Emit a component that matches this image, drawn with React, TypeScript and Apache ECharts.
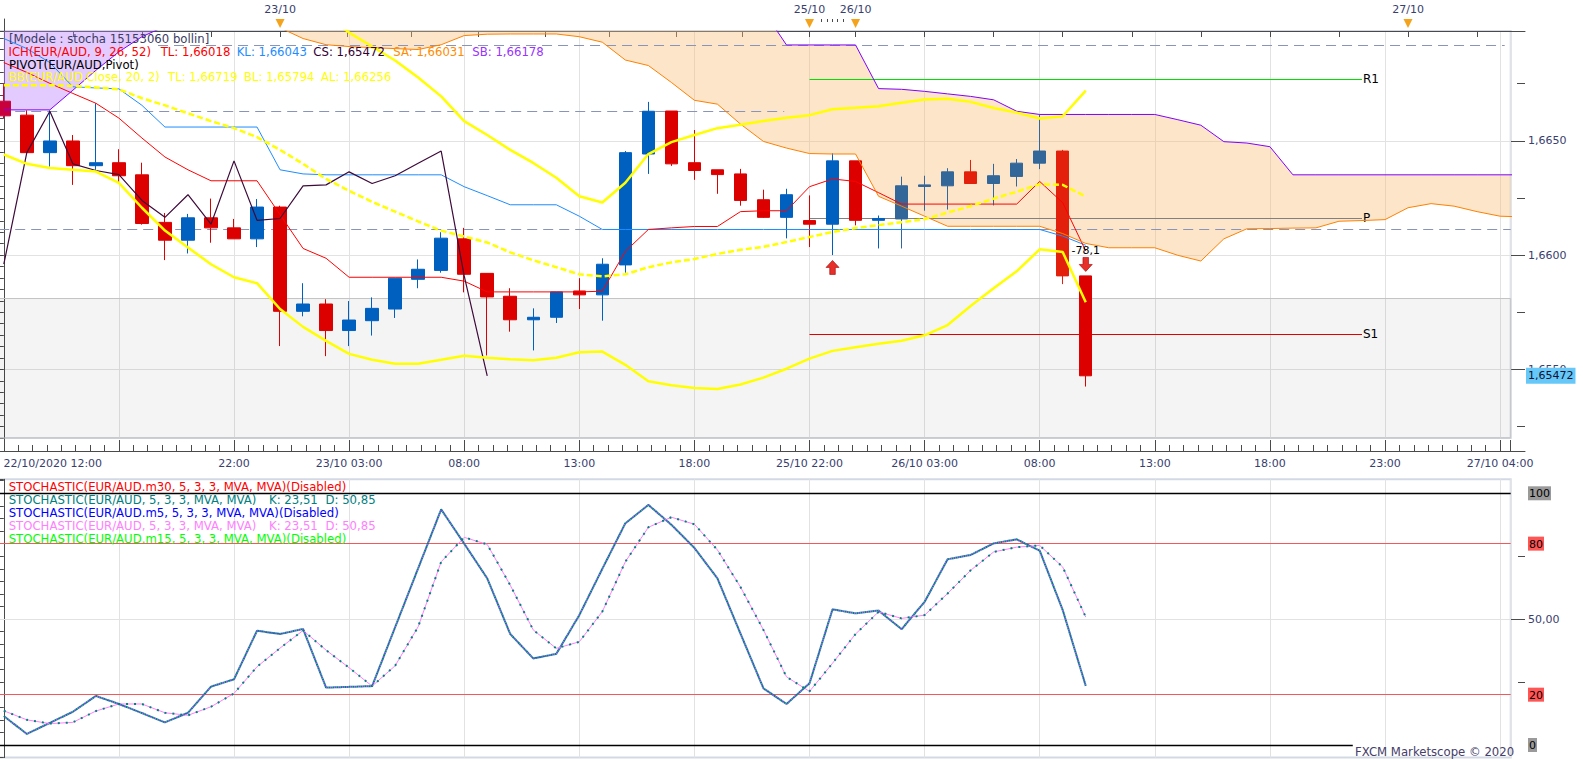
import React, { useEffect, useRef } from 'react';
import * as echarts from 'echarts';

const FONT = 'DejaVu Sans';
const AXIS_TEXT = '#383e6e';
const X_MIN = -5;
const X_MAX = 65.46;
const Y_MIN = 1.652;
const Y_MAX = 1.6698;
const S_MIN = -5;
const S_MAX = 105.56;

// ---- time axis (one slot = one hour) ----
const tickSlots = [0, 5, 10, 15, 20, 25, 30, 35, 40, 45, 50, 55, 60, 65];
const tickLabels = ['22/10/2020 12:00', '', '22:00', '23/10 03:00', '08:00', '13:00', '18:00', '25/10 22:00', '26/10 03:00', '08:00', '13:00', '18:00', '23:00', '27/10 04:00'];
const daySlots = [12, 35, 37, 61];
const dayLabels = ['23/10', '25/10', '26/10', '27/10'];
const topTickSlots = [0, 3, 6, 9, 12, 14.9, 17.7, 20.6, 23.5, 26.3, 29.2, 32.1, 35, 37, 40, 43, 46, 49, 52, 55, 58, 61, 64];
const topSmallTickSlots = [35.5, 35.75, 36, 36.2, 36.45];

// ---- EUR/AUD hourly candles ----
const opens = [1.66673, 1.66612, 1.66448, 1.66499, 1.66391, 1.66404, 1.66351, 1.66143, 1.66065, 1.66163, 1.66119, 1.66071, 1.6621, 1.65754, 1.65786, 1.6567, 1.65713, 1.65764, 1.65894, 1.65933, 1.66071, 1.6592, 1.6582, 1.65717, 1.65728, 1.65843, 1.65826, 1.65957, 1.66442, 1.6663, 1.66404, 1.66373, 1.66355, 1.66242, 1.66165, 1.66151, 1.66135, 1.66412, 1.66152, 1.66158, 1.663, 1.66303, 1.66364, 1.66313, 1.66344, 1.66402, 1.66455, 1.65909];
const closes = [1.66609, 1.66448, 1.66499, 1.66391, 1.66404, 1.66347, 1.66138, 1.66065, 1.66163, 1.66119, 1.66071, 1.6621, 1.65754, 1.65786, 1.6567, 1.65716, 1.65767, 1.65899, 1.65938, 1.66074, 1.65916, 1.65817, 1.65717, 1.65728, 1.65839, 1.65826, 1.6596, 1.66448, 1.66629, 1.66399, 1.6637, 1.66352, 1.66239, 1.66165, 1.66264, 1.66135, 1.66412, 1.66152, 1.6616, 1.66303, 1.66307, 1.66364, 1.66313, 1.66347, 1.66402, 1.66455, 1.65909, 1.65472];
const lows = [1.66599, 1.66447, 1.66387, 1.66307, 1.66373, 1.66317, 1.66133, 1.65978, 1.66007, 1.66054, 1.66071, 1.66035, 1.65602, 1.65732, 1.65558, 1.65602, 1.65648, 1.65725, 1.65855, 1.65923, 1.65837, 1.65561, 1.65665, 1.65583, 1.65703, 1.65764, 1.65713, 1.65923, 1.66355, 1.6639, 1.66329, 1.66268, 1.66216, 1.66163, 1.66073, 1.66035, 1.66, 1.6613, 1.66029, 1.66029, 1.66194, 1.66199, 1.66313, 1.66217, 1.663, 1.66376, 1.65873, 1.65425];
const highs = [1.66751, 1.66633, 1.66633, 1.66525, 1.66664, 1.66463, 1.66404, 1.66184, 1.6618, 1.66247, 1.66158, 1.66245, 1.66216, 1.65877, 1.65807, 1.65799, 1.65815, 1.65899, 1.65981, 1.661, 1.66119, 1.6592, 1.65855, 1.65767, 1.65839, 1.65899, 1.65986, 1.66455, 1.6667, 1.6663, 1.66547, 1.66373, 1.66377, 1.66286, 1.6629, 1.66261, 1.66445, 1.66412, 1.66173, 1.66343, 1.66347, 1.6638, 1.66416, 1.66399, 1.6642, 1.66615, 1.6646, 1.65909];

// ---- Ichimoku ----
const tenkan = [1.66842, 1.66799, 1.66751, 1.66707, 1.66664, 1.66599, 1.66512, 1.66429, 1.66373, 1.66325, 1.66325, 1.66325, 1.66177, 1.66029, 1.65986, 1.65903, 1.65903, 1.65903, 1.65903, 1.65903, 1.65886, 1.65839, 1.65839, 1.65839, 1.65839, 1.65839, 1.65842, 1.66016, 1.66112, 1.66119, 1.66125, 1.66125, 1.6619, 1.66194, 1.66194, 1.66299, 1.66333, 1.66322, 1.66273, 1.66223, 1.66223, 1.66223, 1.66223, 1.66223, 1.66223, 1.66322, 1.66229, 1.66018];
const kijun = [1.66947, 1.66903, 1.66842, 1.66736, 1.66731, 1.66727, 1.66655, 1.6656, 1.6656, 1.6656, 1.6656, 1.6656, 1.66373, 1.66355, 1.66351, 1.66351, 1.66351, 1.66351, 1.66351, 1.66351, 1.66299, 1.6626, 1.6622, 1.6622, 1.6622, 1.6617, 1.66112, 1.66112, 1.66112, 1.66112, 1.66112, 1.66112, 1.66112, 1.66112, 1.66112, 1.66112, 1.66112, 1.66112, 1.66112, 1.66112, 1.66112, 1.66112, 1.66112, 1.66112, 1.66112, 1.66112, 1.66083, 1.66043];
const senkouA = [1.67068, 1.67068, 1.67068, 1.67068, 1.67068, 1.67068, 1.67068, 1.67068, 1.67068, 1.67068, 1.67068, 1.67068, 1.66994, 1.66947, 1.6692, 1.66912, 1.66907, 1.66903, 1.66899, 1.6692, 1.6696, 1.66966, 1.66967, 1.66967, 1.66967, 1.66955, 1.66931, 1.66853, 1.66829, 1.66755, 1.66677, 1.6666, 1.66573, 1.66497, 1.66468, 1.66444, 1.66442, 1.66442, 1.66257, 1.66214, 1.6617, 1.66126, 1.66126, 1.66126, 1.66126, 1.66126, 1.66094, 1.66051, 1.66032, 1.66032, 1.66032, 1.65999, 1.65974, 1.66071, 1.66115, 1.66116, 1.66118, 1.66119, 1.66148, 1.66151, 1.66155, 1.66207, 1.66225, 1.66214, 1.6619, 1.6617, 1.66167];
const senkouB = [1.66635, 1.66635, 1.66635, 1.66721, 1.66808, 1.66889, 1.66955, 1.67, 1.6709, 1.6709, 1.6709, 1.6709, 1.6709, 1.6709, 1.6709, 1.6709, 1.6709, 1.6709, 1.6709, 1.6709, 1.6709, 1.6709, 1.6709, 1.6709, 1.6709, 1.6709, 1.6709, 1.6709, 1.6709, 1.6709, 1.6709, 1.6709, 1.6709, 1.67068, 1.66919, 1.66919, 1.66919, 1.66919, 1.66728, 1.66725, 1.66716, 1.66705, 1.66694, 1.66679, 1.66629, 1.66615, 1.66615, 1.66615, 1.66615, 1.66615, 1.66615, 1.66592, 1.66568, 1.66496, 1.6649, 1.66474, 1.66351, 1.66351, 1.66351, 1.66351, 1.66351, 1.66351, 1.66351, 1.66351, 1.66351, 1.66351, 1.66351];
const chikouShift = 26;

// ---- Bollinger (20, 2) ----
const bbUpper = [null, null, null, null, null, null, null, null, null, null, null, null, null, null, 1.67051, 1.66973, 1.66912, 1.66851, 1.66777, 1.66694, 1.66586, 1.66525, 1.6646, 1.66403, 1.66338, 1.66257, 1.6623, 1.66316, 1.66442, 1.66494, 1.66525, 1.66555, 1.6657, 1.66586, 1.66601, 1.66612, 1.66638, 1.66644, 1.66651, 1.66666, 1.6668, 1.66684, 1.6667, 1.66643, 1.66623, 1.66597, 1.66607, 1.66719];
const bbMiddle = [1.66743, 1.66743, 1.66743, 1.6674, 1.66733, 1.66725, 1.66686, 1.66655, 1.6662, 1.66586, 1.66555, 1.66516, 1.6646, 1.66399, 1.66333, 1.66281, 1.66233, 1.6619, 1.66147, 1.66107, 1.66081, 1.66055, 1.66012, 1.65977, 1.65947, 1.65916, 1.65907, 1.65916, 1.65947, 1.65968, 1.65983, 1.66005, 1.66023, 1.66036, 1.66057, 1.66079, 1.66101, 1.66118, 1.66131, 1.66144, 1.66157, 1.66186, 1.66214, 1.66247, 1.66277, 1.6631, 1.66307, 1.66256];
const bbLower = [1.6644, 1.66399, 1.66381, 1.66373, 1.66365, 1.66316, 1.66207, 1.66107, 1.66033, 1.6596, 1.65903, 1.65877, 1.65764, 1.65686, 1.65625, 1.65568, 1.65542, 1.65525, 1.65525, 1.65542, 1.6556, 1.65551, 1.65544, 1.6554, 1.65551, 1.65575, 1.65578, 1.6552, 1.65448, 1.65431, 1.65419, 1.65414, 1.65434, 1.65464, 1.65503, 1.65547, 1.65581, 1.65597, 1.65612, 1.65625, 1.65649, 1.65694, 1.65777, 1.65855, 1.65929, 1.66025, 1.66013, 1.65794];

// ---- horizontal levels ----
const levelNames = ['', '', '', 'R1', 'P', 'S1'];
const levelPrices = [1.66919, 1.66631, 1.66112, 1.66771, 1.66163, 1.65655];
const levelFrom = [6.7, -0.2, -0.2, 35, 35, 35];
const levelTo = [65.2, 33.9, 65.46, 59, 59, 59];
const zoneTop = 1.6581;

// ---- signals ----
const upSignalSlots = [36];
const upSignalPrices = [1.65946];
const downSignalSlots = [47];
const downSignalPrices = [1.65959];
const downSignalLabels = ['-78,1'];

// ---- Stochastic (5,3,3) ----
const stochK = [11.5, 4.4, 8.8, 13.2, 19.5, 16.3, 12.7, 9.0, 12.8, 23.2, 26.1, 45.4, 44.1, 46.1, 22.8, 23.1, 23.4, 46.8, 70.2, 93.6, 80.0, 66.2, 44.1, 34.4, 36.2, 51.6, 70.0, 88.1, 95.4, 87.5, 78.3, 66.2, 44.3, 22.5, 16.3, 24.5, 53.9, 52.3, 53.4, 46.0, 56.9, 73.8, 75.5, 80.1, 81.7, 77.2, 53.6, 23.51];
const stochD = [13.6, 10.0, 8.5, 9.0, 13.5, 16.3, 16.3, 12.8, 11.8, 15.2, 20.5, 31.1, 38.5, 45.5, 37.7, 30.7, 23.4, 31.5, 47.0, 72.8, 82.5, 79.7, 63.5, 45.7, 38.4, 41.0, 53.0, 72.8, 86.5, 90.5, 87.7, 77.5, 62.8, 45.7, 27.1, 21.3, 32.5, 44.1, 52.9, 50.3, 51.6, 60.2, 69.4, 76.7, 78.6, 79.3, 70.7, 50.85];
const stochZeroLineEnd = 58.6;

const PEACH = 'rgba(248,190,120,0.4)';
const LAVENDER = 'rgba(185,125,255,0.4)';
const UP_PATH = 'path://M7,0L14,7L10,7L10,14L4,14L4,7L0,7Z';
const DOWN_PATH = 'path://M4,0L10,0L10,7L14,7L7,14L0,7L4,7Z';

function interp(arr: number[], x: number) {
  const i = Math.max(0, Math.min(Math.floor(x), arr.length - 2));
  const t = x - i;
  return arr[i] + (arr[i + 1] - arr[i]) * t;
}

function zeros(f: (x: number) => number, n: number) {
  const out: number[] = [];
  for (let i = 0; i < n - 1; i++) {
    const a = f(i);
    const b = f(i + 1);
    if ((a > 0 && b < 0) || (a < 0 && b > 0)) out.push(i + a / (a - b));
  }
  return out;
}

function cloudPolygons() {
  const n = senkouA.length;
  const A = (x: number) => interp(senkouA, x);
  const B = (x: number) => interp(senkouB, x);
  let xs: number[] = [];
  for (let i = 0; i < n; i++) xs.push(i);
  xs = xs.concat(zeros((x) => A(x) - Y_MAX, n), zeros((x) => B(x) - Y_MAX, n), zeros((x) => B(x) - A(x), n), [X_MAX]);
  xs = xs.filter((x) => x <= X_MAX).sort((a, b) => a - b);
  const clampY = (v: number) => Math.min(Math.max(v, Y_MIN), Y_MAX);
  const runs: { up: boolean; xs: number[] }[] = [];
  let cur: { up: boolean; xs: number[] } | null = null;
  for (let k = 0; k < xs.length - 1; k++) {
    const x0 = xs[k];
    const x1 = xs[k + 1];
    if (x1 - x0 < 1e-9) continue;
    const xm = (x0 + x1) / 2;
    const up = B(xm) >= A(xm);
    if (!cur || cur.up !== up) {
      if (cur) runs.push(cur);
      cur = { up, xs: [x0] };
    }
    cur.xs.push(x1);
  }
  if (cur) runs.push(cur);
  return runs.map((r) => ({
    up: r.up,
    pts: [...r.xs.map((x) => [x, clampY(B(x))]), ...r.xs.slice().reverse().map((x) => [x, clampY(A(x))])],
  }));
}

function buildOption(): any {
  const pts = (arr: (number | null)[]) =>
    arr.map((v, i) => [i, v]).filter((p) => p[1] != null);

  const candleData = opens.map((o, i) => {
    const c = closes[i];
    const bLo = Math.min(o, c);
    const bHi = Math.max(o, c);
    const cLo = Math.min(senkouA[i], senkouB[i]);
    const cHi = Math.max(senkouA[i], senkouB[i]);
    const item: any = { value: [i, o, c, lows[i], highs[i]] };
    if (bHi > cLo && bLo < cHi) {
      const peach = senkouB[i] >= senkouA[i];
      const bear = peach ? '#e3200b' : '#c8003c';
      item.itemStyle = c >= o
        ? { color: '#336699', borderColor: '#336699' }
        : { color0: bear, borderColor0: bear };
    }
    return item;
  });

  const lineS = (data: any[], color: string, width: number, z: number, type: any = 'solid', xi = 0, yi = 0, dashOffset = 0) => ({
    type: 'line', xAxisIndex: xi, yAxisIndex: yi, data, symbol: 'none', showSymbol: false,
    silent: true, z, lineStyle: { color, width, type, dashOffset }, emphasis: { disabled: true },
  });

  const levelStyles = [
    { color: '#8a93b8', width: 1, type: [10, 6] },
    { color: '#8a93b8', width: 1, type: [10, 6] },
    { color: '#8a93b8', width: 1, type: [10, 6] },
    { color: '#00e000', width: 1, type: 'solid' },
    { color: '#808080', width: 1, type: 'solid' },
    { color: '#e00000', width: 1, type: 'solid' },
  ];

  const bottomLabel = (v: number) => {
    const k = tickSlots.findIndex((s) => Math.abs(s - v) < 1e-6);
    if (k < 0) return '';
    return k === 0 ? `{first|${tickLabels[k]}}` : tickLabels[k];
  };
  const dayLabel = (v: number) => {
    const k = daySlots.findIndex((s) => Math.abs(s - v) < 1e-6);
    return k < 0 ? '' : dayLabels[k];
  };
  const stochLabel = (v: number) => {
    const r = Math.round(v);
    if (r === 100 || r === 0) return `{g|${r}}`;
    if (r === 80 || r === 20) return `{r|${r}}`;
    if (r === 50) return '{n|50,00}';
    return '';
  };

  const axisLineStyle = { color: '#4a4a4a', width: 1 };
  const gridLeft = -111.3;
  const gridWidth = 1622;
  const axisGap = 14.3;
  const pxPerSlot = gridWidth / (X_MAX - X_MIN);
  const X_MAX_WIDE = X_MIN + (gridWidth + axisGap) / pxPerSlot;

  const LEG = `11.7px "${FONT}"`;
  const txt = (x: number, y: number, text: string, fill: string) => ({
    type: 'text', x, y, z: 100, silent: true,
    style: { text, fill, font: LEG, verticalAlign: 'middle' },
  });
  // a legend line made of coloured pieces, each starting where the original places it
  const pieces = (y: number, parts: [number, string, string][]) => parts.map(([x, text, fill]) => txt(x, y, text, fill));

  return {
    animation: false,
    textStyle: { fontFamily: FONT },
    grid: [
      { left: gridLeft, top: 31, width: gridWidth, height: 407, show: true, backgroundColor: '#ffffff', borderColor: '#d3d9e4', borderWidth: 2, outerBoundsMode: 'none' },
      { left: gridLeft, top: 479.3, width: gridWidth, height: 278.3, show: true, backgroundColor: '#ffffff', borderColor: '#d3d9e4', borderWidth: 2, outerBoundsMode: 'none' },
      { left: gridLeft, top: 19, width: gridWidth + axisGap, height: 12, outerBoundsMode: 'none' },
      { left: gridLeft, top: 438, width: gridWidth + axisGap, height: 13, outerBoundsMode: 'none' },
    ],
    xAxis: [
      {
        gridIndex: 0, type: 'value', min: X_MIN, max: X_MAX, interval: 5, position: 'bottom', offset: 13,
        axisLine: { show: true, lineStyle: axisLineStyle },
        axisTick: { show: true, inside: true, length: 11, lineStyle: axisLineStyle },
        minorTick: { show: true, splitNumber: 8, length: 6, lineStyle: axisLineStyle },
        axisLabel: {
          formatter: bottomLabel, color: AXIS_TEXT, fontSize: 11, fontFamily: FONT, margin: 7,
          rich: { first: { padding: [0, 0, 0, 98], color: AXIS_TEXT, fontSize: 11, fontFamily: FONT } },
        },
        splitLine: { show: true, lineStyle: { color: '#e2e2e2' } },
      },
      {
        gridIndex: 1, type: 'value', min: X_MIN, max: X_MAX, interval: 5,
        axisLine: { show: false }, axisTick: { show: false }, axisLabel: { show: false },
        splitLine: { show: true, lineStyle: { color: '#e2e2e2' } },
      },
      {
        gridIndex: 2, type: 'value', min: X_MIN, max: X_MAX_WIDE, position: 'top',
        axisLine: { show: true, lineStyle: axisLineStyle },
        axisTick: { show: true, inside: true, length: 6, customValues: topTickSlots, lineStyle: axisLineStyle },
        axisLabel: { show: true, customValues: daySlots, formatter: dayLabel, color: AXIS_TEXT, fontSize: 11, fontFamily: FONT, margin: 4 },
        splitLine: { show: false },
      },
      {
        gridIndex: 2, type: 'value', min: X_MIN, max: X_MAX_WIDE, position: 'top',
        axisLine: { show: false },
        axisTick: { show: true, inside: true, length: 3, customValues: topSmallTickSlots, lineStyle: axisLineStyle },
        axisLabel: { show: false }, splitLine: { show: false },
      },
      {
        gridIndex: 3, type: 'value', min: X_MIN, max: X_MAX_WIDE, position: 'bottom',
        axisLine: { show: true, lineStyle: axisLineStyle }, axisTick: { show: false }, axisLabel: { show: false }, splitLine: { show: false },
      },
    ],
    yAxis: [
      {
        gridIndex: 0, type: 'value', position: 'right', offset: axisGap, min: Y_MIN, max: Y_MAX, interval: 0.0005,
        axisLine: { show: true, lineStyle: axisLineStyle },
        axisTick: { show: true, inside: true, length: 5, lineStyle: axisLineStyle },
        axisLabel: { customValues: [1.655, 1.66, 1.665], formatter: (v: number) => v.toFixed(4).replace('.', ','), color: AXIS_TEXT, fontSize: 11, fontFamily: FONT, margin: 3 },
        splitLine: { show: false },
      },
      {
        gridIndex: 0, type: 'value', position: 'right', offset: axisGap, min: Y_MIN, max: Y_MAX,
        axisLine: { show: false },
        axisTick: { show: true, inside: true, length: 8, customValues: [1.6525, 1.6575, 1.6625, 1.6675], lineStyle: axisLineStyle },
        axisLabel: { show: false }, splitLine: { show: false },
      },
      {
        gridIndex: 0, type: 'value', position: 'right', offset: axisGap, min: Y_MIN, max: Y_MAX, splitNumber: 4,
        axisLine: { show: false },
        axisTick: { show: true, inside: true, length: 14, customValues: [1.655, 1.66, 1.665], lineStyle: axisLineStyle },
        axisLabel: {
          show: true, customValues: [closes[closes.length - 1]],
          formatter: (v: number) => v.toFixed(5).replace('.', ','),
          color: '#101030', fontSize: 11, fontFamily: FONT, margin: 1, backgroundColor: '#66c8f8', padding: [3, 2, 2, 2],
        },
        splitLine: { show: true, lineStyle: { color: '#e2e2e2' } },
      },
      {
        gridIndex: 1, type: 'value', position: 'right', offset: axisGap, min: S_MIN, max: S_MAX, interval: 5,
        axisLine: { show: true, lineStyle: axisLineStyle },
        axisTick: { show: true, inside: true, length: 4, lineStyle: axisLineStyle },
        axisLabel: {
          customValues: [0, 20, 50, 80, 100], formatter: stochLabel, margin: 3,
          rich: {
            g: { backgroundColor: '#9a9a9a', color: '#000', fontSize: 11, fontFamily: FONT, padding: [2, 1, 1, 1] },
            r: { backgroundColor: '#ff5555', color: '#000', fontSize: 11, fontFamily: FONT, padding: [2, 1, 1, 1] },
            n: { color: AXIS_TEXT, fontSize: 11, fontFamily: FONT },
          },
        },
        splitLine: { show: false },
      },
      {
        gridIndex: 1, type: 'value', position: 'right', offset: axisGap, min: S_MIN, max: S_MAX,
        axisLine: { show: false },
        axisTick: { show: true, inside: true, length: 7, customValues: [25, 75], lineStyle: axisLineStyle },
        axisLabel: { show: false }, splitLine: { show: false },
      },
      {
        gridIndex: 1, type: 'value', position: 'right', offset: axisGap, min: S_MIN, max: S_MAX,
        axisLine: { show: false },
        axisTick: { show: true, inside: true, length: 14, customValues: [50], lineStyle: axisLineStyle },
        axisLabel: { show: false }, splitLine: { show: false },
      },
      {
        gridIndex: 2, type: 'value', position: 'right', min: 0, max: 1,
        axisLine: { show: true, lineStyle: axisLineStyle }, axisTick: { show: false }, axisLabel: { show: false }, splitLine: { show: false },
      },
      {
        gridIndex: 3, type: 'value', position: 'right', min: 0, max: 1,
        axisLine: { show: true, lineStyle: axisLineStyle }, axisTick: { show: false }, axisLabel: { show: false }, splitLine: { show: false },
      },
    ],
    series: [
      {
        type: 'custom', name: 'cloud', xAxisIndex: 0, yAxisIndex: 0, z: 2, silent: true, clip: true,
        data: [[0, 0]],
        renderItem: (_params: any, api: any) => ({
          type: 'group',
          children: cloudPolygons().map((poly) => ({
            type: 'polygon',
            shape: { points: poly.pts.map((p) => api.coord(p)) },
            style: { fill: poly.up ? PEACH : LAVENDER },
          })),
        }),
      },
      {
        type: 'candlestick', name: 'EUR/AUD', xAxisIndex: 0, yAxisIndex: 0, z: 8, silent: true, barWidth: 13,
        encode: { x: 0, y: [1, 2, 3, 4] },
        data: candleData,
        itemStyle: { color: '#0060c0', color0: '#dd0000', borderColor: '#0060c0', borderColor0: '#dd0000', borderWidth: 1 },
        markArea: {
          silent: true,
          itemStyle: { color: 'rgba(0,0,0,0.045)', borderColor: '#c4c4c4', borderWidth: 1 },
          data: [[{ yAxis: zoneTop }, { yAxis: Y_MIN }]],
        },
        markLine: {
          silent: true, symbol: ['none', 'none'], label: { show: false },
          data: levelPrices.map((p, k) => [
            {
              coord: [levelFrom[k], p],
              lineStyle: levelStyles[k],
              label: levelNames[k]
                ? { show: true, position: 'end', formatter: levelNames[k], distance: 1, padding: [14, 0, 0, 0], color: '#000', fontSize: 12, fontFamily: FONT }
                : { show: false },
            },
            { coord: [levelTo[k], p] },
          ]),
        },
      },
      lineS(pts(kijun), '#1e8cff', 1, 10),
      lineS(pts(tenkan), '#ff0000', 1, 10),
      lineS(pts(closes.slice(chikouShift)), '#3d0a3a', 1.2, 10),
      lineS(pts(senkouA), '#ff8000', 1, 10),
      lineS(pts(senkouB), '#8000ff', 1, 10),
      lineS(pts(bbUpper), '#ffff00', 2.5, 11),
      lineS(pts(bbMiddle), '#ffff00', 2.5, 11, [6, 3]),
      lineS(pts(bbLower), '#ffff00', 2.5, 11),
      {
        type: 'scatter', xAxisIndex: 0, yAxisIndex: 0, z: 12, silent: true,
        data: upSignalSlots.map((s, k) => [s, upSignalPrices[k]]),
        symbol: UP_PATH, symbolSize: [13, 14],
        itemStyle: { color: '#e8302a', borderColor: '#a00000', borderWidth: 0.6, opacity: 1 },
      },
      {
        type: 'scatter', xAxisIndex: 0, yAxisIndex: 0, z: 12, silent: true,
        data: downSignalSlots.map((s, k) => [s, downSignalPrices[k]]),
        symbol: DOWN_PATH, symbolSize: [13, 14],
        itemStyle: { color: '#e8302a', borderColor: '#a00000', borderWidth: 0.6, opacity: 1 },
        label: { show: true, position: 'top', distance: 1, formatter: (p: any) => downSignalLabels[p.dataIndex], color: '#000', fontSize: 11, fontFamily: FONT },
      },
      {
        type: 'scatter', xAxisIndex: 2, yAxisIndex: 6, z: 12, silent: true,
        data: daySlots.map((s) => [s, 0.625]),
        symbol: 'triangle', symbolRotate: 180, symbolSize: [9, 9],
        itemStyle: { color: '#f5a31a', opacity: 1 },
      },
      {
        ...lineS(pts(stochK), '#008080', 2, 10, [2, 2], 1, 3),
        markLine: {
          silent: true, symbol: ['none', 'none'], label: { show: false },
          data: [
            { yAxis: 100, lineStyle: { color: '#000', width: 1.3, type: 'solid' } },
            { yAxis: 80, lineStyle: { color: '#f05a5a', width: 1, type: 'solid' } },
            { yAxis: 50, lineStyle: { color: '#e2e2e2', width: 1, type: 'solid' } },
            { yAxis: 20, lineStyle: { color: '#f05a5a', width: 1, type: 'solid' } },
            [{ coord: [X_MIN, 0], lineStyle: { color: '#000', width: 1.3, type: 'solid' } }, { coord: [stochZeroLineEnd, 0] }],
          ],
        },
      },
      lineS(pts(stochK), '#5a5ad0', 2, 11, [2, 2], 1, 3, 2),
      lineS(pts(stochD), '#ff80ff', 1, 10, 'solid', 1, 3),
      lineS(pts(stochD), '#008080', 2, 11, [2, 6], 1, 3),
    ],
    graphic: [
      txt(9, 39, '[Modele : stocha 15153060 bollin]', '#3c3c64'),
      ...pieces(52, [
        [8.5, 'ICH(EUR/AUD, 9, 26, 52)', '#ff0000'], [160.7, 'TL: 1,66018', '#ff0000'], [236.7, 'KL: 1,66043', '#1e8cff'],
        [313.3, 'CS: 1,65472', '#330033'], [393.3, 'SA: 1,66031', '#ff8c00'], [472.3, 'SB: 1,66178', '#9933ff'],
      ]),
      txt(9, 64.7, 'PIVOT(EUR/AUD,Pivot)', '#000000'),
      ...pieces(77.3, [
        [8.5, 'BB(EUR/AUD.Close, 20, 2)', '#ffff00'], [168, 'TL: 1,66719', '#ffff00'], [244, 'BL: 1,65794', '#ffff00'], [321, 'AL: 1,66256', '#ffff00'],
      ]),
      txt(8.7, 487.3, 'STOCHASTIC(EUR/AUD.m30, 5, 3, 3, MVA, MVA)(Disabled)', '#ff0000'),
      ...pieces(500.3, [[8.7, 'STOCHASTIC(EUR/AUD, 5, 3, 3, MVA, MVA)', '#008080'], [269, 'K: 23,51', '#008080'], [325.5, 'D: 50,85', '#008080']]),
      txt(8.7, 513.3, 'STOCHASTIC(EUR/AUD.m5, 5, 3, 3, MVA, MVA)(Disabled)', '#0000ff'),
      ...pieces(526.3, [[8.7, 'STOCHASTIC(EUR/AUD, 5, 3, 3, MVA, MVA)', '#ff80ff'], [269, 'K: 23,51', '#ff80ff'], [325.5, 'D: 50,85', '#ff80ff']]),
      txt(8.7, 539.3, 'STOCHASTIC(EUR/AUD.m15, 5, 3, 3, MVA, MVA)(Disabled)', '#00ff00'),
      txt(1355, 752, 'FXCM Marketscope © 2020', '#46406a'),
    ],
  };
}

export default function App() {
  const ref = useRef<HTMLDivElement>(null);
  useEffect(() => {
    document.body.style.margin = '0';
    const chart = echarts.init(ref.current as HTMLDivElement, undefined, { renderer: 'svg' });
    chart.setOption(buildOption());
    return () => chart.dispose();
  }, []);
  return <div ref={ref} style={{ width: 1583, height: 760 }} />;
}
